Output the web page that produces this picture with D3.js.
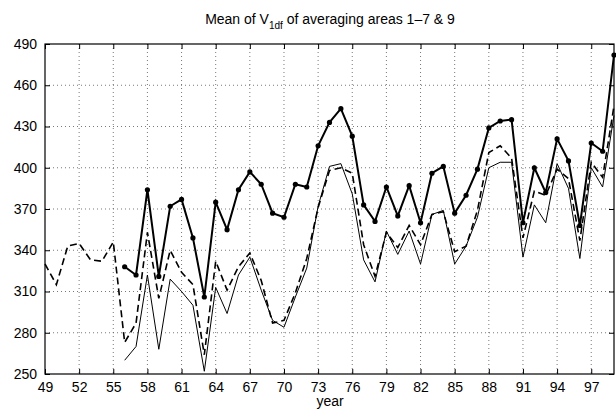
<!DOCTYPE html>
<html>
<head>
<meta charset="utf-8">
<script src="https://cdn.jsdelivr.net/npm/d3@7"></script>
<style>
  body { margin: 0; background: #fff; }
  text { font-family: "Liberation Sans", Arial, sans-serif; fill: #000; }
  .grid line { stroke: #555; stroke-dasharray: 1,3; stroke-width: 0.8; }
</style>
</head>
<body>
<div id="container"></div>
<script>
const years = d3.range(49, 100);
const dashedValues = [330, 315, 343, 345, 333, 332, 346, 273, 287, 353, 305, 340, 324, 315, 264, 332, 311, 328, 338, 318,
  287, 289, 309, 334, 371, 398, 400, 396, 344, 321, 353, 342, 358, 344, 366, 368, 339, 343, 369, 411,
  416, 407, 349, 383, 380, 399, 392, 347, 404, 393, 445];
// thick line with dots and thin line start at 56
const dotYears = d3.range(56, 100);
const dotValues = [328, 322, 384, 321, 372, 377, 349, 306, 375, 355, 384, 397, 388, 367, 364, 388, 386, 416, 433, 443,
  423, 373, 361, 386, 365, 387, 360, 396, 401, 367, 380, 399, 429, 434, 435, 360, 400, 382, 421, 405,
  358, 418, 412, 482];
const thinValues = [260, 270, 322, 268, 319, 310, 300, 252, 313, 294, 322, 335, 311, 289, 284, 306, 327, 372, 401, 403,
  381, 333, 317, 354, 337, 354, 330, 366, 369, 330, 343, 364, 400, 404, 404, 335, 373, 360, 403, 385,
  334, 400, 386, 438];
const xTicks = d3.range(49, 98, 3);
const yTicks = d3.range(250, 491, 30);

const margin = {top: 44, right: 2, bottom: 38, left: 45};
const width = 616 - margin.left - margin.right;
const height = 412 - margin.top - margin.bottom;

const svg = d3.select("#container")
  .append("svg")
  .attr("width", 616)
  .attr("height", 412);

const g = svg.append("g")
  .attr("transform", "translate(" + margin.left + "," + margin.top + ")");

const x = d3.scaleLinear().domain([49, 99]).range([0, width]);
const y = d3.scaleLinear().domain([250, 490]).range([height, 0]);

// grid
g.append("g").attr("class", "grid")
  .selectAll("line.v").data(xTicks.slice(1)).enter().append("line")
  .attr("x1", d => x(d)).attr("x2", d => x(d)).attr("y1", 0).attr("y2", height);
g.append("g").attr("class", "grid")
  .selectAll("line.h").data(yTicks.slice(1, -1)).enter().append("line")
  .attr("x1", 0).attr("x2", width).attr("y1", d => y(d)).attr("y2", d => y(d));

// axes with inward ticks, matlab style
const tick = 5;
g.append("g").attr("transform", "translate(0," + height + ")")
  .call(d3.axisBottom(x).tickValues(xTicks).tickSizeInner(-tick).tickSizeOuter(0).tickPadding(8))
  .call(a => a.select(".domain").remove());
g.append("g")
  .call(d3.axisTop(x).tickValues(xTicks).tickSizeInner(-tick).tickSizeOuter(0).tickFormat(""))
  .call(a => a.select(".domain").remove());
g.append("g")
  .call(d3.axisLeft(y).tickValues(yTicks).tickSizeInner(-tick).tickSizeOuter(0).tickPadding(8))
  .call(a => a.select(".domain").remove());
g.append("g").attr("transform", "translate(" + width + ",0)")
  .call(d3.axisRight(y).tickValues(yTicks).tickSizeInner(-tick).tickSizeOuter(0).tickFormat(""))
  .call(a => a.select(".domain").remove());

g.selectAll(".tick text").style("font-size", "14px").style("font-family", "Liberation Sans, Arial, sans-serif");

g.append("rect")
  .attr("width", width).attr("height", height)
  .attr("fill", "none").attr("stroke", "#000").attr("stroke-width", 1.2);

const line = d3.line().x(d => x(d[0])).y(d => y(d[1]));

g.append("path")
  .datum(years.map((yr, i) => [yr, dashedValues[i]]))
  .attr("fill", "none").attr("stroke", "#000")
  .attr("stroke-width", 1.6).attr("stroke-dasharray", "7,4")
  .attr("d", line);

g.append("path")
  .datum(dotYears.map((yr, i) => [yr, thinValues[i]]))
  .attr("fill", "none").attr("stroke", "#000").attr("stroke-width", 1)
  .attr("d", line);

const dots = dotYears.map((yr, i) => [yr, dotValues[i]]);
g.append("path")
  .datum(dots)
  .attr("fill", "none").attr("stroke", "#000").attr("stroke-width", 2)
  .attr("d", line);
g.selectAll(".dot").data(dots).enter().append("circle")
  .attr("class", "dot")
  .attr("cx", d => x(d[0])).attr("cy", d => y(d[1])).attr("r", 2.6)
  .attr("fill", "#000");

// title
const title = svg.append("text")
  .attr("x", 330).attr("y", 24)
  .attr("text-anchor", "middle")
  .style("font-size", "14px");
title.append("tspan").text("Mean of V");
title.append("tspan").attr("dy", 5).style("font-size", "10px").text("1df");
title.append("tspan").attr("dy", -5).text(" of averaging areas 1\u20137 & 9");

svg.append("text")
  .attr("x", 330).attr("y", 406)
  .attr("text-anchor", "middle")
  .style("font-size", "14px")
  .text("year");
</script>
</body>
</html>
